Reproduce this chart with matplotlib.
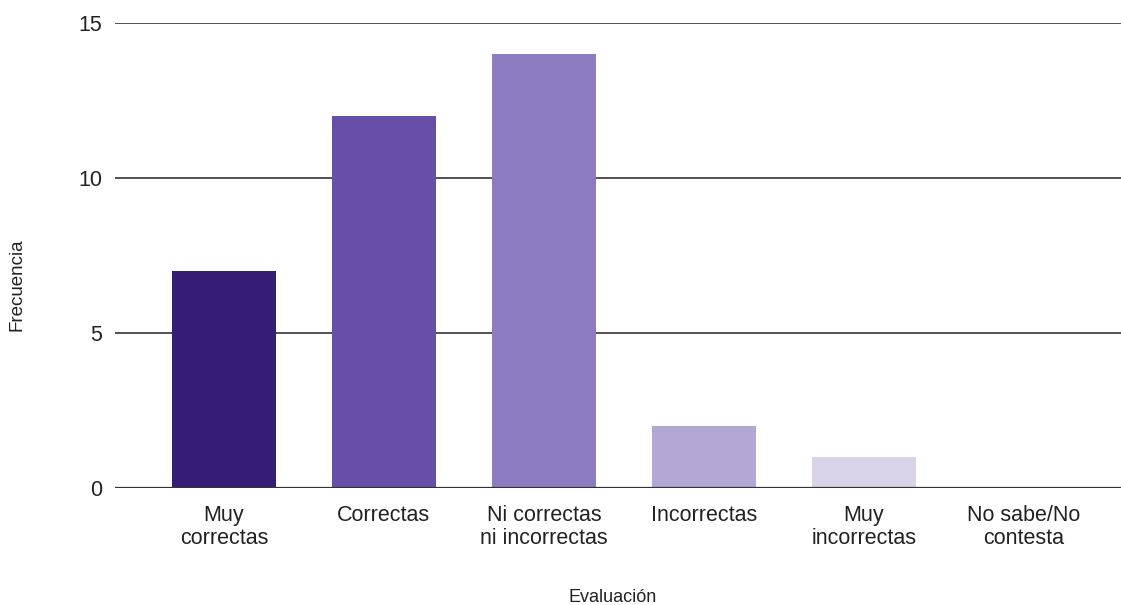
import matplotlib.pyplot as plt

categories = ["Muy\ncorrectas", "Correctas", "Ni correctas\nni incorrectas",
              "Incorrectas", "Muy\nincorrectas", "No sabe/No\ncontesta"]
frecuencia = [7, 12, 14, 2, 1, 0]
colors = ["#351c75", "#674ea7", "#8e7cc3", "#b4a7d6", "#d9d2e9", "#ede9f5"]

plt.rcParams["font.family"] = ["Liberation Sans", "DejaVu Sans"]

W, H = 1121, 605
fig = plt.figure(figsize=(W / 100, H / 100), dpi=100)
ax = fig.add_axes([115 / W, (H - 488) / H, (W - 115) / W, (488 - 23) / H])

x = list(range(len(categories)))
ax.bar(x, frecuencia, width=0.65, color=colors, zorder=3)

ax.set_xlim(-0.68, 5.606)
ax.set_ylim(0, 15)
ax.set_yticks([0, 5, 10, 15])
ax.yaxis.grid(True, color="#333333", linewidth=1.2, zorder=0)
ax.axhline(0, color="#333333", linewidth=1.6, zorder=4)
for s in ax.spines.values():
    s.set_visible(False)
ax.tick_params(axis="both", length=0, labelsize=15.5, colors="#222222")
ax.tick_params(axis="y", pad=9)
ax.tick_params(axis="x", pad=12)
ax.set_xticks(x)
ax.set_xticklabels(categories, linespacing=1.15)

fig.text(17 / W, 1 - 285 / H, "Frecuencia", rotation=90, ha="center", va="center",
         fontsize=13.5, color="#222222")
fig.text(613 / W, 1 - 597 / H, "Evaluación", ha="center", va="center",
         fontsize=13, color="#222222")

fig.savefig("out.png", dpi=100)
